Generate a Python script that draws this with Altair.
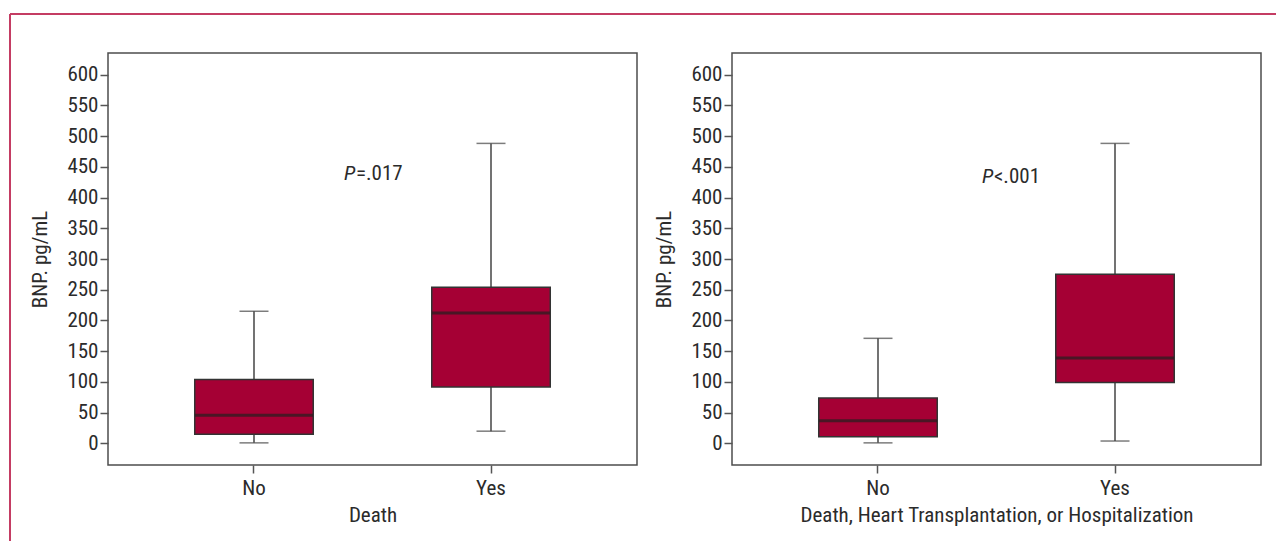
import altair as alt
import pandas as pd

# Box-plot summaries of BNP (pg/mL) by outcome
groups = ["No", "Yes"]

death_min = [1, 20]
death_q1 = [15, 92]
death_median = [46, 212]
death_q3 = [104, 254]
death_max = [215, 488]

combined_min = [1, 4]
combined_q1 = [11, 99]
combined_median = [37, 139]
combined_q3 = [74, 275]
combined_max = [171, 488]

y_ticks = list(range(0, 601, 50))

FONT = "Liberation Sans Narrow, Roboto Condensed, DejaVu Sans Condensed, sans-serif"
FS = 21
BOX_FILL = "#A50034"
INK = "#2b2b2b"
FRAME_RED = "#C43C63"

PW, PH = 529, 412


def summary_frame(mins, q1s, meds, q3s, maxs):
    return pd.DataFrame({
        "group": groups, "lo": mins, "q1": q1s,
        "median": meds, "q3": q3s, "hi": maxs,
    })


def panel(df, x_title, p_rest, p_x, p_y, with_border=False):
    x_enc = alt.X(
        "group:N",
        title=x_title,
        sort=groups,
        scale=alt.Scale(paddingInner=0.5, paddingOuter=0.366),
        axis=alt.Axis(labelAngle=0, domain=False, tickSize=8, labelPadding=4,
                      titlePadding=6, tickColor="#555", tickWidth=1.5),
    )
    y_scale = alt.Scale(domain=[-35, 635], nice=False, zero=False)
    y_axis = alt.Axis(values=y_ticks, domain=False, grid=False, tickSize=8,
                      labelPadding=2, titlePadding=16, tickColor="#555",
                      tickWidth=1.5, labelOverlap=False)

    def yq(field):
        return alt.Y(field, type="quantitative", scale=y_scale, axis=y_axis,
                     title="BNP. pg/mL")

    base = alt.Chart(df)
    whisker = base.mark_rule(color="#444", strokeWidth=1.5).encode(
        x=x_enc, y=yq("lo"), y2="hi:Q",
    )
    cap_lo = base.mark_tick(color="#444", size=29, thickness=1.5).encode(
        x=x_enc, y=yq("lo")
    )
    cap_hi = base.mark_tick(color="#444", size=29, thickness=1.5).encode(
        x=x_enc, y=yq("hi")
    )
    box = base.mark_bar(fill=BOX_FILL, stroke="#333", strokeWidth=1.5).encode(
        x=x_enc, y=yq("q1"), y2="q3:Q"
    )
    median = base.mark_tick(color="#231F20", size=118, thickness=3).encode(
        x=x_enc, y=yq("median")
    )

    ann = pd.DataFrame({"y": [p_y], "rest": [p_rest]})
    p_italic = alt.Chart(ann).mark_text(
        text="P", fontStyle="italic", font=FONT, fontSize=FS, color=INK,
        align="left", baseline="middle",
    ).encode(x=alt.value(p_x), y=yq("y"))
    p_tail = alt.Chart(ann).mark_text(
        font=FONT, fontSize=FS, color=INK, align="left", baseline="middle",
    ).encode(x=alt.value(p_x + 12), y=yq("y"), text="rest:N")

    layers = [whisker, cap_lo, cap_hi, box, median, p_italic, p_tail]

    if with_border:
        one = alt.Data(values=[{}])
        top_line = alt.Chart(one).mark_rule(color=FRAME_RED, strokeWidth=2).encode(
            x=alt.value(-98), x2=alt.value(1168), y=alt.value(-39)
        )
        left_line = alt.Chart(one).mark_rule(color=FRAME_RED, strokeWidth=2).encode(
            x=alt.value(-98), y=alt.value(-39), y2=alt.value(488)
        )
        layers = [top_line, left_line] + layers

    return alt.layer(*layers).properties(width=PW, height=PH)


left = panel(
    summary_frame(death_min, death_q1, death_median, death_q3, death_max),
    "Death", "=.017", 236, 438, with_border=True,
)
right = panel(
    summary_frame(combined_min, combined_q1, combined_median, combined_q3, combined_max),
    "Death, Heart Transplantation, or Hospitalization", "<.001", 250, 434,
)

chart = alt.hconcat(left, right, spacing=95, bounds="flush").properties(
    padding={"left": 8, "top": 12, "right": 0, "bottom": 0},
    background="white",
).configure_view(
    stroke="#4d4d4d", strokeWidth=1.5
).configure_axis(
    labelFont=FONT, titleFont=FONT, labelFontSize=FS, titleFontSize=FS,
    labelColor=INK, titleColor=INK, titleFontWeight="normal",
)

chart.save("out.html", embed_options={"renderer": "svg", "actions": False})
